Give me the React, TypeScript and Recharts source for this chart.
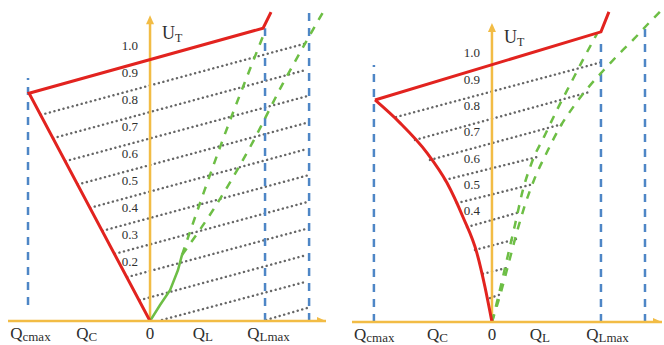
import { ComposedChart, Line, Scatter, XAxis, YAxis } from "recharts";

const ORANGE = "#F2BC45";
const RED = "#E2231F";
const BLUE = "#4E86C6";
const GREEN = "#6DBE45";
const DOTS = "#666666";
const INK = "#2E2E2E";
const SERIF = "'Liberation Serif', 'Times New Roman', serif";

// shared axis labels (Q axis)
const Q_LABELS = [
  ["Q", "cmax"],
  ["Q", "C"],
  ["0", ""],
  ["Q", "L"],
  ["Q", "Lmax"],
];

// ---- left panel ----
const LEFT_Q_TICKS = [-1.04, -0.55, 0, 0.46, 1.03];
const LEFT_U_TICKS = [0.2, 0.3, 0.4, 0.5, 0.6, 0.7, 0.8, 0.9, 1.0];
const LEFT_RED = [[0, 0], [-1.052, 0.841], [0.983, 1.081], [1.052, 1.14]];
const LEFT_BLUE = [
  [[-1.061, 0.059], [-1.061, 0.897]],
  [[1.0, 0], [1.0, 1.081]],
  [[1.383, 0], [1.383, 1.137]],
];
const LEFT_DOTTED = [
  [[-0.95, 0.761], [1.365, 1.026]],
  [[-0.843, 0.675], [1.365, 0.928]],
  [[-0.736, 0.59], [1.365, 0.83]],
  [[-0.629, 0.504], [1.365, 0.732]],
  [[-0.521, 0.418], [1.365, 0.635]],
  [[-0.414, 0.333], [1.365, 0.537]],
  [[-0.306, 0.248], [1.365, 0.439]],
  [[-0.199, 0.162], [1.365, 0.341]],
  [[-0.091, 0.077], [1.365, 0.244]],
  [[0.104, 0.004], [1.365, 0.146]],
  [[1.009, 0.004], [1.365, 0.048]],
];
const LEFT_GREEN_SOLID = [[0, 0], [0.087, 0.059], [0.174, 0.114], [0.243, 0.188], [0.278, 0.244]];
const LEFT_GREEN_INNER = [[0.278, 0.244], [0.609, 0.642], [1.0, 1.07]];
const LEFT_GREEN_OUTER = [[0.278, 0.244], [0.565, 0.421], [0.87, 0.642], [1.157, 0.878], [1.365, 1.037], [1.504, 1.14]];

// ---- right panel ----
const RIGHT_Q_TICKS = [-1.08, -0.5, 0, 0.44, 1.06];
const RIGHT_U_TICKS = [0.4, 0.5, 0.6, 0.7, 0.8, 0.9, 1.0];
const RIGHT_RED_CURVE = [
  [-1.073, 0.844], [-0.844, 0.757], [-0.596, 0.643], [-0.413, 0.529],
  [-0.266, 0.399], [-0.138, 0.262], [-0.064, 0.133], [0, 0],
];
const RIGHT_RED_TOP = [[-1.073, 0.844], [1.0, 1.103], [1.073, 1.179]];
const RIGHT_BLUE = [
  [[-1.083, 0], [-1.083, 0.977]],
  [[1.0, 0], [1.0, 1.08]],
  [[1.404, 0], [1.404, 1.129]],
];
const RIGHT_DOTTED = [
  [[-0.881, 0.779], [1.018, 0.989]],
  [[-0.706, 0.692], [0.899, 0.875]],
  [[-0.569, 0.616], [0.651, 0.753]],
  [[-0.431, 0.54], [0.413, 0.627]],
  [[-0.321, 0.452], [0.349, 0.521]],
  [[-0.229, 0.361], [0.257, 0.418]],
  [[-0.156, 0.274], [0.229, 0.316]],
  [[-0.083, 0.183], [0.128, 0.205]],
  [[-0.018, 0.091], [0.064, 0.103]],
];
const RIGHT_GREEN_INNER = [
  [0, 0], [0.073, 0.122], [0.147, 0.255], [0.211, 0.369], [0.284, 0.502], [0.367, 0.608],
  [0.486, 0.711], [0.606, 0.814], [0.725, 0.909], [0.844, 1.004], [0.963, 1.095],
];
const RIGHT_GREEN_OUTER = [
  [0, 0], [0.083, 0.114], [0.156, 0.228], [0.229, 0.342], [0.303, 0.445], [0.394, 0.548],
  [0.505, 0.646], [0.624, 0.741], [0.752, 0.821], [0.881, 0.89], [1.018, 0.954],
  [1.156, 1.015], [1.303, 1.076], [1.45, 1.141], [1.55, 1.183],
];

const pts = (a: number[][]) => a.map(([q, u]) => ({ q, u }));

const LEFT = {
  margin: { top: 0, right: 6, left: 8, bottom: 0 },
  xh: 24,
  qDomain: [-1.235, 1.53],
  uDomain: [0, 1.185],
  qTicks: LEFT_Q_TICKS,
  uTicks: LEFT_U_TICKS,
  tickDy: -5,
  utAt: 1.063,
  arrowTop: 1.129,
  red: [{ d: LEFT_RED, type: "linear" }],
  blue: LEFT_BLUE,
  dotted: LEFT_DOTTED,
  greenSolid: LEFT_GREEN_SOLID,
  greenDashed: [LEFT_GREEN_INNER, LEFT_GREEN_OUTER],
};

const RIGHT = {
  margin: { top: 0, right: 2, left: 20, bottom: 0 },
  xh: 23,
  qDomain: [-1.284, 1.56],
  uDomain: [0, 1.224],
  qTicks: RIGHT_Q_TICKS,
  uTicks: RIGHT_U_TICKS,
  tickDy: -6,
  utAt: 1.084,
  arrowTop: 1.137,
  red: [
    { d: RIGHT_RED_CURVE, type: "monotone" },
    { d: RIGHT_RED_TOP, type: "linear" },
  ],
  blue: RIGHT_BLUE,
  dotted: RIGHT_DOTTED,
  greenSolid: null,
  greenDashed: [RIGHT_GREEN_INNER, RIGHT_GREEN_OUTER],
};

function QTick({ x, y, index }: any) {
  const [main, sub] = Q_LABELS[index] ?? ["", ""];
  return (
    <text x={x} y={y + 18} textAnchor="middle" fontFamily={SERIF} fontSize={17} fill={INK}>
      <tspan>{main}</tspan>
      {sub && (
        <tspan fontSize={13} dy={2}>
          {sub}
        </tspan>
      )}
    </text>
  );
}

function Panel({ cfg }: { cfg: typeof LEFT }) {
  const qMax = cfg.qDomain[1];
  return (
    <ComposedChart width={332} height={345} margin={cfg.margin}>
      <XAxis
        type="number"
        dataKey="q"
        domain={cfg.qDomain}
        allowDataOverflow
        ticks={cfg.qTicks}
        interval={0}
        height={cfg.xh}
        tickSize={0}
        tickMargin={0}
        tickLine={false}
        axisLine={{ stroke: ORANGE, strokeWidth: 2.5 }}
        tick={(p: any) => <QTick {...p} />}
      />
      <YAxis type="number" dataKey="u" domain={cfg.uDomain} allowDataOverflow hide />

      {cfg.dotted.map((seg, i) => (
        <Line
          key={`dot${i}`}
          data={pts(seg)}
          dataKey="u"
          type="linear"
          dot={false}
          stroke={DOTS}
          strokeWidth={2.4}
          strokeDasharray="0.1 4.6"
          strokeLinecap="round"
          isAnimationActive={false}
        />
      ))}
      {cfg.blue.map((seg, i) => (
        <Line
          key={`blue${i}`}
          data={pts(seg)}
          dataKey="u"
          type="linear"
          dot={false}
          stroke={BLUE}
          strokeWidth={2.5}
          strokeDasharray="8 7"
          isAnimationActive={false}
        />
      ))}
      <Line
        data={pts([[0, 0], [0, cfg.arrowTop - 0.03]])}
        dataKey="u"
        type="linear"
        dot={false}
        stroke={ORANGE}
        strokeWidth={2.5}
        isAnimationActive={false}
      />
      {cfg.greenSolid && (
        <Line
          data={pts(cfg.greenSolid)}
          dataKey="u"
          type="linear"
          dot={false}
          stroke={GREEN}
          strokeWidth={2.5}
          isAnimationActive={false}
        />
      )}
      {cfg.greenDashed.map((seg, i) => (
        <Line
          key={`green${i}`}
          data={pts(seg)}
          dataKey="u"
          type="monotone"
          dot={false}
          stroke={GREEN}
          strokeWidth={2.5}
          strokeDasharray="8 8"
          isAnimationActive={false}
        />
      ))}
      {cfg.red.map((s, i) => (
        <Line
          key={`red${i}`}
          data={pts(s.d)}
          dataKey="u"
          type={s.type as any}
          dot={false}
          stroke={RED}
          strokeWidth={3}
          strokeLinejoin="miter"
          isAnimationActive={false}
        />
      ))}

      {/* axis arrow heads */}
      <Scatter
        data={[{ q: qMax, u: 0 }]}
        dataKey="u"
        isAnimationActive={false}
        shape={(p: any) => (
          <path d={`M${p.cx},${p.cy} L${p.cx - 9},${p.cy - 4} L${p.cx - 9},${p.cy + 4} Z`} fill={ORANGE} />
        )}
      />
      <Scatter
        data={[{ q: 0, u: cfg.arrowTop }]}
        dataKey="u"
        isAnimationActive={false}
        shape={(p: any) => (
          <path d={`M${p.cx},${p.cy} L${p.cx - 4},${p.cy + 9} L${p.cx + 4},${p.cy + 9} Z`} fill={ORANGE} />
        )}
      />

      {/* U_T tick labels, left of the vertical axis */}
      <Scatter
        data={cfg.uTicks.map((u) => ({ q: 0, u }))}
        dataKey="u"
        isAnimationActive={false}
        shape={(p: any) => (
          <text
            x={p.cx - 12}
            y={p.cy + cfg.tickDy}
            dy="0.35em"
            textAnchor="end"
            fontFamily={SERIF}
            fontSize={13}
            fill={INK}
          >
            {p.payload.u.toFixed(1)}
          </text>
        )}
      />
      <Scatter
        data={[{ q: 0, u: cfg.utAt }]}
        dataKey="u"
        isAnimationActive={false}
        shape={(p: any) => (
          <text x={p.cx + 12} y={p.cy} dy="0.35em" fontFamily={SERIF} fontSize={18} fill={INK}>
            <tspan>U</tspan>
            <tspan fontSize={12} dy={3}>
              T
            </tspan>
          </text>
        )}
      />
    </ComposedChart>
  );
}

export default function App() {
  return (
    <div style={{ position: "absolute", left: 0, top: 0, width: 664, height: 345, display: "flex", background: "#fff" }}>
      <Panel cfg={LEFT} />
      <Panel cfg={RIGHT} />
    </div>
  );
}
